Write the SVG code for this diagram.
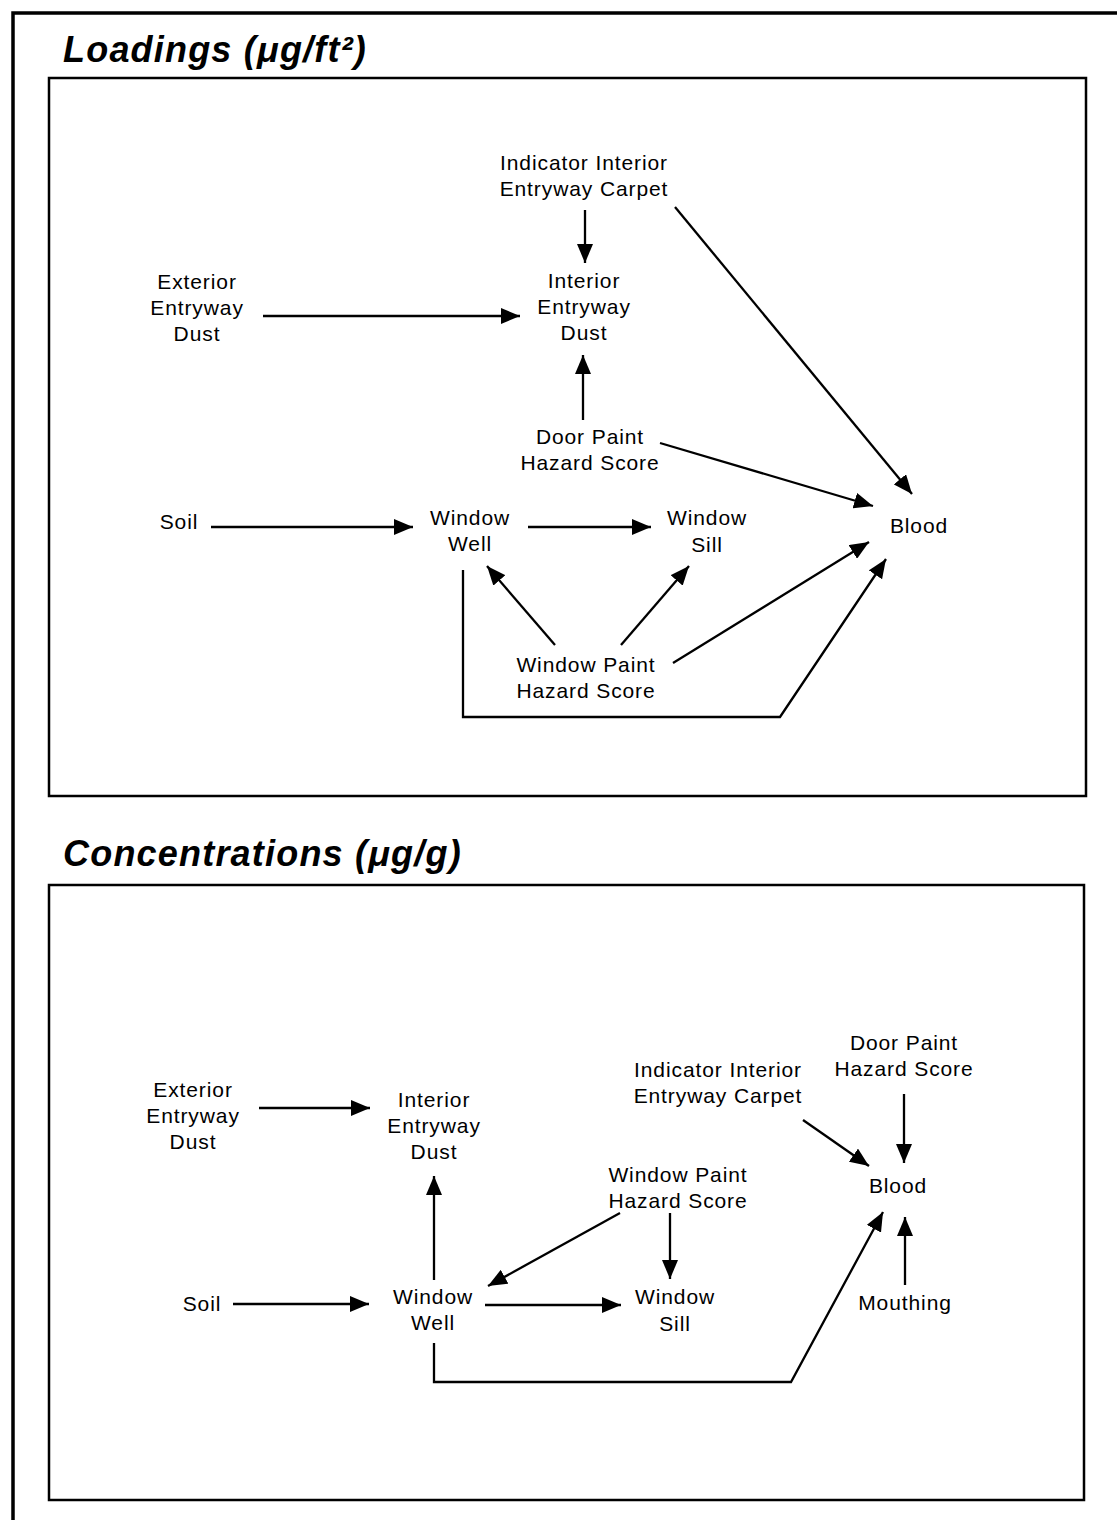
<svg xmlns="http://www.w3.org/2000/svg" width="1117" height="1520" viewBox="0 0 1117 1520">
  <style>
    .lbl { font-family: "Liberation Sans", Arial, sans-serif; font-size: 21px; letter-spacing: 0.9px; fill: #000; text-anchor: middle; }
    .title { font-family: "Liberation Sans", Arial, sans-serif; font-size: 36px; letter-spacing: 1.2px; font-weight: bold; font-style: italic; fill: #000; }
    .edge { fill: none; stroke: #000; stroke-width: 2.3; }
    .frame { fill: none; stroke: #000; stroke-width: 2.5; }
  </style>
  <defs>
    <marker id="arrow" markerUnits="userSpaceOnUse" markerWidth="20" markerHeight="16" refX="19" refY="8" orient="auto">
      <path d="M0,0 L19,8 L0,16 Z" fill="#000"/>
    </marker>
  </defs>
  <rect width="1117" height="1520" fill="#fff"/>

  <!-- outer frame (top and left edges) -->
  <path d="M13,1520 L13,13 L1117,13" fill="none" stroke="#000" stroke-width="3.5"/>

  <!-- panel titles -->
  <text class="title" x="63" y="62">Loadings (μg/ft²)</text>
  <text class="title" x="63" y="866">Concentrations (μg/g)</text>

  <!-- panel boxes -->
  <rect class="frame" x="49" y="78" width="1037" height="718"/>
  <rect class="frame" x="49" y="885" width="1035" height="615"/>

  <!-- Loadings panel nodes -->
  <g id="L-indicator-carpet">
    <text class="lbl" x="584" y="170">Indicator Interior</text>
    <text class="lbl" x="584" y="196">Entryway Carpet</text>
  </g>
  <g id="L-interior-dust">
    <text class="lbl" x="584" y="288">Interior</text>
    <text class="lbl" x="584" y="314">Entryway</text>
    <text class="lbl" x="584" y="340">Dust</text>
  </g>
  <g id="L-exterior-dust">
    <text class="lbl" x="197" y="289">Exterior</text>
    <text class="lbl" x="197" y="315">Entryway</text>
    <text class="lbl" x="197" y="341">Dust</text>
  </g>
  <g id="L-door-paint">
    <text class="lbl" x="590" y="444">Door Paint</text>
    <text class="lbl" x="590" y="470">Hazard Score</text>
  </g>
  <g id="L-soil">
    <text class="lbl" x="179" y="529">Soil</text>
  </g>
  <g id="L-window-well">
    <text class="lbl" x="470" y="525">Window</text>
    <text class="lbl" x="470" y="551">Well</text>
  </g>
  <g id="L-window-sill">
    <text class="lbl" x="707" y="525">Window</text>
    <text class="lbl" x="707" y="552">Sill</text>
  </g>
  <g id="L-blood">
    <text class="lbl" x="919" y="533">Blood</text>
  </g>
  <g id="L-window-paint">
    <text class="lbl" x="586" y="672">Window Paint</text>
    <text class="lbl" x="586" y="698">Hazard Score</text>
  </g>

  <!-- Concentrations panel nodes -->
  <g id="C-exterior-dust">
    <text class="lbl" x="193" y="1097">Exterior</text>
    <text class="lbl" x="193" y="1123">Entryway</text>
    <text class="lbl" x="193" y="1149">Dust</text>
  </g>
  <g id="C-interior-dust">
    <text class="lbl" x="434" y="1107">Interior</text>
    <text class="lbl" x="434" y="1133">Entryway</text>
    <text class="lbl" x="434" y="1159">Dust</text>
  </g>
  <g id="C-indicator-carpet">
    <text class="lbl" x="718" y="1077">Indicator Interior</text>
    <text class="lbl" x="718" y="1103">Entryway Carpet</text>
  </g>
  <g id="C-door-paint">
    <text class="lbl" x="904" y="1050">Door Paint</text>
    <text class="lbl" x="904" y="1076">Hazard Score</text>
  </g>
  <g id="C-blood">
    <text class="lbl" x="898" y="1193">Blood</text>
  </g>
  <g id="C-window-paint">
    <text class="lbl" x="678" y="1182">Window Paint</text>
    <text class="lbl" x="678" y="1208">Hazard Score</text>
  </g>
  <g id="C-soil">
    <text class="lbl" x="202" y="1311">Soil</text>
  </g>
  <g id="C-window-well">
    <text class="lbl" x="433" y="1304">Window</text>
    <text class="lbl" x="433" y="1330">Well</text>
  </g>
  <g id="C-window-sill">
    <text class="lbl" x="675" y="1304">Window</text>
    <text class="lbl" x="675" y="1331">Sill</text>
  </g>
  <g id="C-mouthing">
    <text class="lbl" x="905" y="1310">Mouthing</text>
  </g>

  <!-- connectors -->
  <g id="connectors">
    <!-- Loadings -->
    <path class="edge" marker-end="url(#arrow)" d="M585,210 L585,263"/>
    <path class="edge" marker-end="url(#arrow)" d="M263,316 L520,316"/>
    <path class="edge" marker-end="url(#arrow)" d="M583,420 L583,355"/>
    <path class="edge" marker-end="url(#arrow)" d="M675,207 L912,494"/>
    <path class="edge" marker-end="url(#arrow)" d="M660,443 L873,506"/>
    <path class="edge" marker-end="url(#arrow)" d="M211,527 L413,527"/>
    <path class="edge" marker-end="url(#arrow)" d="M528,527 L651,527"/>
    <path class="edge" marker-end="url(#arrow)" d="M555,645 L487,566"/>
    <path class="edge" marker-end="url(#arrow)" d="M621,645 L689,566"/>
    <path class="edge" marker-end="url(#arrow)" d="M673,663 L869,542"/>
    <path class="edge" marker-end="url(#arrow)" d="M463,570 L463,717 L780,717 L886,559"/>

    <!-- Concentrations -->
    <path class="edge" marker-end="url(#arrow)" d="M259,1108 L370,1108"/>
    <path class="edge" marker-end="url(#arrow)" d="M434,1280 L434,1176"/>
    <path class="edge" marker-end="url(#arrow)" d="M620,1213 L488,1286"/>
    <path class="edge" marker-end="url(#arrow)" d="M670,1213 L670,1279"/>
    <path class="edge" marker-end="url(#arrow)" d="M233,1304 L369,1304"/>
    <path class="edge" marker-end="url(#arrow)" d="M485,1305 L621,1305"/>
    <path class="edge" marker-end="url(#arrow)" d="M803,1120 L869,1166"/>
    <path class="edge" marker-end="url(#arrow)" d="M904,1094 L904,1163"/>
    <path class="edge" marker-end="url(#arrow)" d="M905,1285 L905,1217"/>
    <path class="edge" marker-end="url(#arrow)" d="M434,1343 L434,1382 L791,1382 L883,1212"/>
  </g>
</svg>
